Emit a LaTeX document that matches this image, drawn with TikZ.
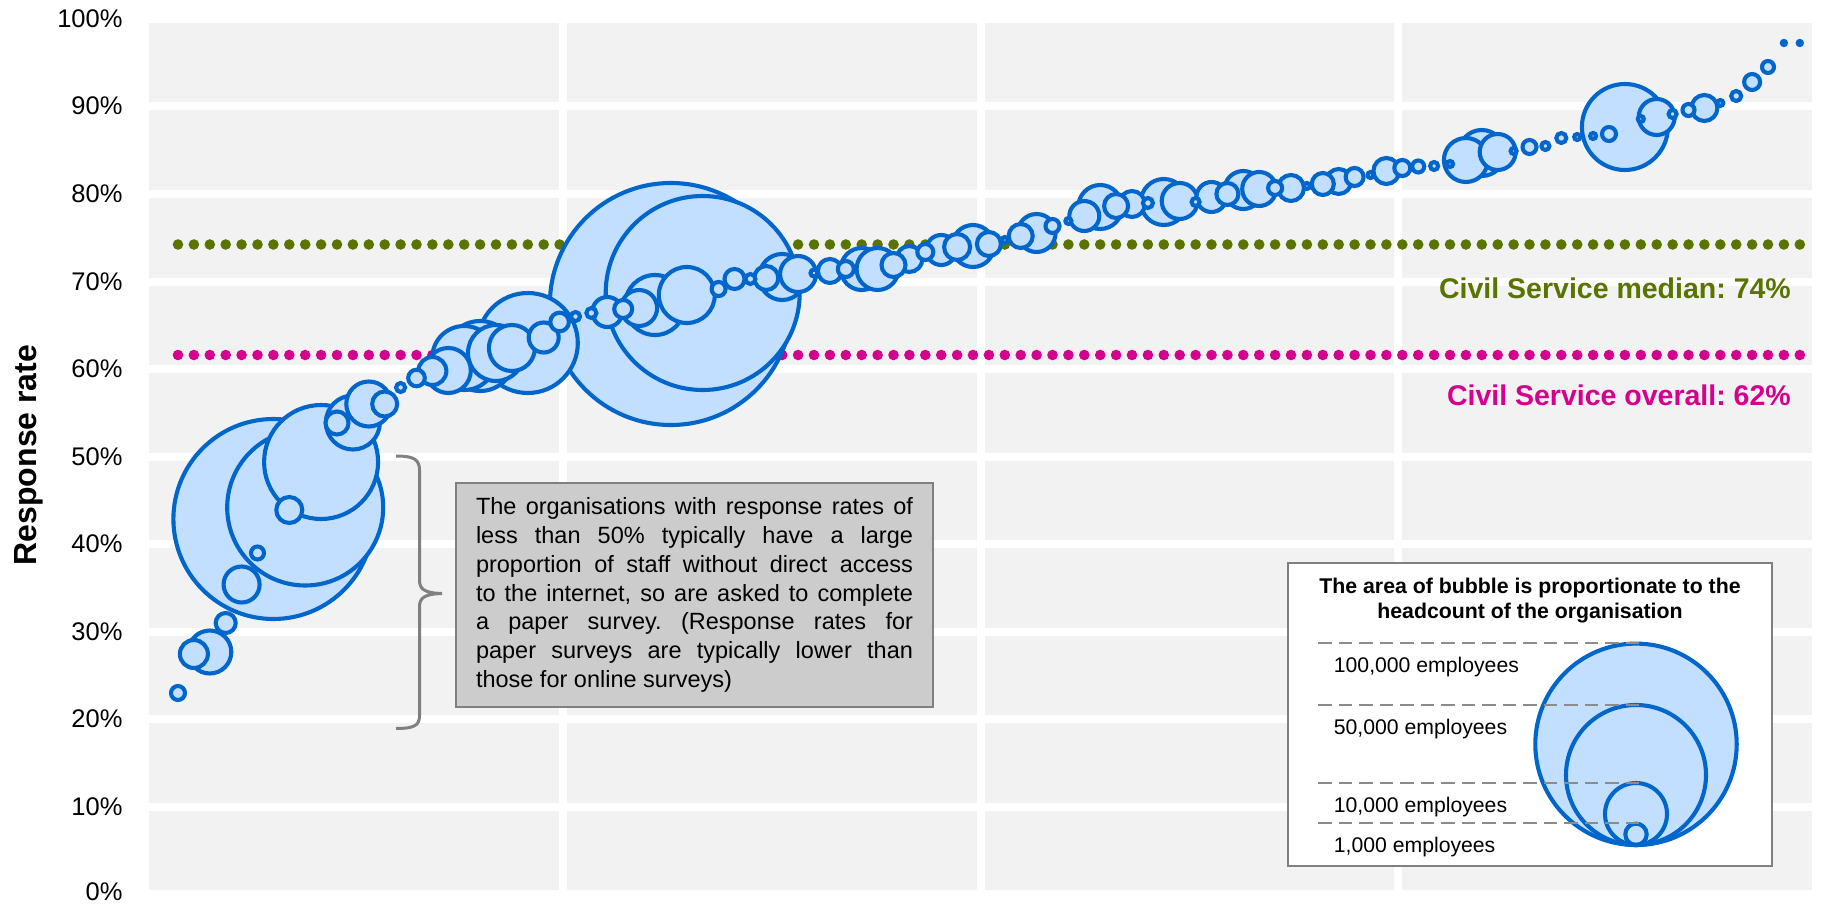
\documentclass[tikz,border=0pt]{standalone}
\usepackage{fontspec}
\setmainfont{Liberation Sans}
\frenchspacing
\definecolor{bubbleedge}{RGB}{0,102,204}
\definecolor{bubblefill}{RGB}{194,223,255}
\definecolor{plotbg}{RGB}{242,242,242}
\definecolor{mediangreen}{RGB}{90,116,0}
\definecolor{overallpink}{RGB}{214,0,142}
\definecolor{notefill}{RGB}{204,204,204}
\definecolor{framegray}{RGB}{128,128,128}
\definecolor{dashgray}{RGB}{140,140,140}
\begin{document}
\begin{tikzpicture}[x=1pt,y=-1pt,
  bubble/.style={draw=bubbleedge,fill=bubblefill,line width=4.1pt},
  gridline/.style={white,line width=8pt},
  ticklabel/.style={anchor=base east,inner sep=0pt,font=\fontsize{25.5}{30}\selectfont},
  reflabel/.style={anchor=base east,inner sep=0pt,font=\bfseries\fontsize{28.5}{34}\selectfont},
  legenddash/.style={dashgray,line width=2pt,dash pattern=on 13.5pt off 7pt},
  legendlabel/.style={anchor=base west,inner sep=0pt,font=\fontsize{21.2}{25}\selectfont},
  legendbubble/.style={circle,draw=bubbleedge,line width=4.1pt,inner sep=0pt}]
\useasboundingbox (0,0) rectangle (1823,904);

% plot area with white grid
\fill[plotbg] (145,19) rectangle (1816,894);
\foreach \v in {0,...,10}
  \draw[gridline] (141,{894-87.5*\v}) -- (1820,{894-87.5*\v});
\foreach \k in {0,...,4}
  \draw[gridline] ({145+417.75*\k},15) -- ({145+417.75*\k},898);

% vertical axis
\foreach \v/\lab in {0/0\%,1/10\%,2/20\%,3/30\%,4/40\%,5/50\%,6/60\%,7/70\%,8/80\%,9/90\%,10/100\%}
  \node[ticklabel] (tick\v) at (122.7,{min(894-87.5*\v+8.5,900.5)}) {\lab};
\node[rotate=90,anchor=base,inner sep=0pt,font=\bfseries\fontsize{32}{38}\selectfont] (ytitle) at (36,455) {Response rate};

% reference lines (one dot per organisation)
\foreach \i in {0,...,102} {
  \fill[mediangreen] ({178+15.9*\i},244.5) circle[radius=5.3];
  \fill[overallpink] ({178+15.9*\i},355) circle[radius=5.3];
}

% organisations: index / y / radius, largest drawn first
\foreach \i/\yy/\rr in {
  31/304/121, 6/519/100, 33/293/97, 8/507.5/78, 9/462/57, 22/343/50, 91/127/43,
  19/356/35, 18/358/32, 30/305/30, 20/353/28, 32/295/28, 11/422.5/27,
  21/348/23, 38/277/23, 62/202/23, 82/153/23, 12/404/22.5, 17/370.5/22.5,
  58/207/22, 81/160/22, 2/652/21.5, 43/269/21, 44/269/21, 50/246/21,
  54/233/19, 67/190/19, 4/584.5/18, 29/308/18, 39/274/18, 63/201/18,
  83/152/18, 93/117/18, 68/189/17, 23/337.5/15, 27/312/15, 48/250/15,
  57/216/15, 65/197/15, 1/654/14, 16/371/14, 7/510/13, 46/259/13,
  49/247/13, 60/204/13, 70/188/13, 76/171/13, 96/108/13, 13/404/12.5,
  73/181.5/12.5, 37/278/12, 41/271/12, 45/265/12, 51/244/12, 53/236/12,
  59/206/12, 10/423/11.5, 66/194/11, 72/184/11, 3/623/10, 35/279/10,
  24/322/9.3, 28/309/9, 74/177/9, 15/378/8.3, 42/269/8, 47/252/8,
  77/168/8, 99/82/8, 0/693/7, 34/289/7, 55/226/7, 69/188/7, 85/147/7,
  90/134/7, 5/553/6.5, 78/166.5/6, 95/110/6, 100/67/6, 26/313/5,
  36/279/5, 61/203/5, 87/138/5, 98/96/5, 14/387.5/4.5, 25/316.5/4.5,
  64/202/4, 79/166/4, 86/146/4, 94/114/4, 40/273/3.5, 52/240/3,
  56/221/3, 71/186/3, 75/175/3, 80/164/3, 84/151/3, 88/137/3, 89/136/3,
  92/119/3, 97/103/3, 101/43/2, 102/43/2}
  \draw[bubble] ({178+15.9*\i},\yy) circle[radius=\rr];

% reference line labels
\node[reflabel,text=mediangreen] (median) at (1791,298) {Civil Service median: 74\%};
\node[reflabel,text=overallpink] (overall) at (1791,405) {Civil Service overall: 62\%};

% note on low response rates, with its brace
\node[draw=framegray,fill=notefill,line width=1.5pt,minimum width=477pt,minimum height=224pt,
      text width=437pt,inner xsep=20pt,inner ysep=0pt,align=justify,
      font=\fontsize{23.5}{28.9}\selectfont] (note) at (694.5,595)
  {The organisations with response rates of\linebreak
   less than 50\% typically have a large\linebreak
   proportion of staff without direct access\linebreak
   to the internet, so are asked to complete\linebreak
   a paper survey. (Response rates for\linebreak
   paper surveys are typically lower than\linebreak
   those for online surveys)};
\draw[framegray,line width=3pt]
  (396,456) .. controls (413,456) and (419.5,459) .. (419.5,470)
  -- (419.5,580) .. controls (419.5,589) and (424,593) .. (442,593.5)
  .. controls (424,594) and (419.5,598) .. (419.5,607)
  -- (419.5,716) .. controls (419.5,726) and (413,728.5) .. (396,728.5);

% size legend
\node[draw=framegray,fill=white,line width=1.5pt,minimum width=484pt,minimum height=303pt] (legendbox) at (1530,714.5) {};
\node[align=center,inner sep=0pt,font=\bfseries\fontsize{21.3}{25}\selectfont] (legendtitle) at (1530,601)
  {The area of bubble is proportionate to the\\headcount of the organisation};
\node[legendbubble,fill=bubblefill,minimum size=201.4pt] (c100) at (1636,744.3) {};
\node[legendbubble,minimum size=140pt] (c50) at (1636,775) {};
\node[legendbubble,minimum size=62pt] (c10) at (1636,814) {};
\node[legendbubble,minimum size=21.4pt] (c1) at (1636,834.3) {};
\coordinate (d100) at (1318,643.3);
\coordinate (d50) at (1318,705);
\coordinate (d10) at (1318,783.3);
\coordinate (d1) at (1318,823.3);
\draw[legenddash] (d100) -- ([xshift=6pt]d100 -| c100.north);
\draw[legenddash] (d50) -- ([xshift=6pt]d50 -| c50.north);
\draw[legenddash] (d10) -- ([xshift=6pt]d10 -| c10.north);
\draw[legenddash] (d1) -- ([xshift=6pt]d1 -| c1.north);
\node[legendlabel] (l100) at (1333.7,672.6) {100,000 employees};
\node[legendlabel] (l50) at (1333.7,734.3) {50,000 employees};
\node[legendlabel] (l10) at (1333.7,812.6) {10,000 employees};
\node[legendlabel] (l1) at (1333.7,852) {1,000 employees};
\end{tikzpicture}
\end{document}
